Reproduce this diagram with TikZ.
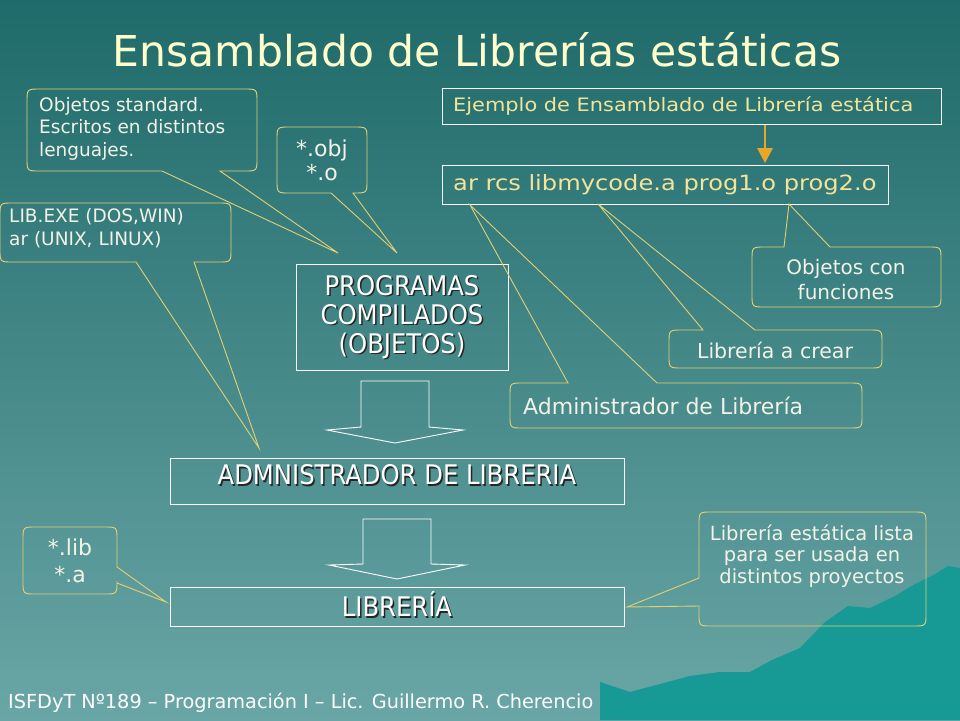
\documentclass[tikz,border=0pt]{standalone}
\usepackage{fontspec}
\setmainfont{DejaVu Sans}
\newfontfamily\condf{DejaVu Sans Condensed}
\definecolor{bgtop}{HTML}{1F6A6A}
\definecolor{bgbot}{HTML}{6AA6A6}
\definecolor{cob}{HTML}{E2CF72}
\definecolor{ctxt}{HTML}{F2F2E6}
\definecolor{ytxt}{HTML}{F3E49A}
\definecolor{titc}{HTML}{FFFFCC}
\definecolor{mnt}{HTML}{179A95}
\definecolor{orng}{HTML}{E8A62A}
\tikzset{
  co/.style={draw=cob, line width=0.9pt, line join=miter},
  wbox/.style={draw=white, line width=0.9pt},
  ct/.style={text=ctxt, inner sep=0pt, align=left},
  bt/.style={text=white, inner sep=0pt, align=center, font=\condf\fontsize{27}{29}\selectfont},
  sh/.style={text=black!85, inner sep=0pt, align=center, font=\condf\fontsize{27}{29}\selectfont},
  barrow/.style={draw=white, line width=0.9pt}
}
\newcommand\cbot[7]{\draw[co] ({#1+13},#2) -- ({#3-13},#2) .. controls (#3,#2) .. (#3,{#2+13}) -- (#3,{#4-13}) .. controls (#3,#4) .. ({#3-13},#4) -- (#6,#4) -- #7 -- (#5,#4) -- ({#1+13},#4) .. controls (#1,#4) .. (#1,{#4-13}) -- (#1,{#2+13}) .. controls (#1,#2) .. cycle;}
\newcommand\ctop[7]{\draw[co] ({#1+13},#2) -- (#5,#2) -- #7 -- (#6,#2) -- ({#3-13},#2) .. controls (#3,#2) .. (#3,{#2+13}) -- (#3,{#4-13}) .. controls (#3,#4) .. ({#3-13},#4) -- ({#1+13},#4) .. controls (#1,#4) .. (#1,{#4-13}) -- (#1,{#2+13}) .. controls (#1,#2) .. cycle;}
\newcommand\cright[7]{\draw[co] ({#1+13},#2) -- ({#3-13},#2) .. controls (#3,#2) .. (#3,{#2+13}) -- (#3,#5) -- #7 -- (#3,#6) -- (#3,{#4-13}) .. controls (#3,#4) .. ({#3-13},#4) -- ({#1+13},#4) .. controls (#1,#4) .. (#1,{#4-13}) -- (#1,{#2+13}) .. controls (#1,#2) .. cycle;}
\newcommand\cleft[7]{\draw[co] ({#1+13},#2) -- ({#3-13},#2) .. controls (#3,#2) .. (#3,{#2+13}) -- (#3,{#4-13}) .. controls (#3,#4) .. ({#3-13},#4) -- ({#1+13},#4) .. controls (#1,#4) .. (#1,{#4-13}) -- (#1,#6) -- #7 -- (#1,#5) -- (#1,{#2+13}) .. controls (#1,#2) .. cycle;}
\begin{document}
\begin{tikzpicture}[x=1pt,y=-1pt]
\shade[top color=bgtop, bottom color=bgbot] (0,0) rectangle (960,720);
\useasboundingbox (0,0) rectangle (960,720);
\fill[mnt] (600,682) -- (630,692) -- (660,684) -- (690,676) -- (720,672) -- (750,672) -- (772,660) -- (800,648) -- (825,622) -- (848,606) -- (870,608) -- (895,596) -- (915,584) -- (935,574) -- (948,566) -- (960,568) -- (960,720) -- (600,720) -- cycle;
\node[text=titc, font=\fontsize{42.5}{48}\selectfont] (title) at (477,50) {Ensamblado de Librerías estáticas};
\draw[wbox] (296,264) rectangle (508,370);
\node[sh] at (403.5,318.5) {PROGRAMAS\\COMPILADOS\\(OBJETOS)};
\node[bt] (prog) at (402,317) {PROGRAMAS\\COMPILADOS\\(OBJETOS)};
\draw[wbox] (170,458) rectangle (624,504);
\node[sh] at (398.5,476.5) {ADMNISTRADOR DE LIBRERIA};
\node[bt] (adm) at (397,475) {ADMNISTRADOR DE LIBRERIA};
\draw[wbox] (170,587) rectangle (624,626);
\node[sh] at (398.5,605.5) {LIBRERÍA};
\node[bt] (lib) at (397,604) {LIBRERÍA};
\draw[barrow] (361,427) -- (361,381) -- (429,381) -- (429,427) -- (463,430) -- (395,443) -- (327,430) -- cycle;
\draw[barrow] (363,564) -- (363,519) -- (431,519) -- (431,564) -- (465,565) -- (397,579) -- (329,565) -- cycle;
\cbot{27}{89}{257}{171}{162}{220}{(338,253)}
\node[ct, font=\fontsize{18.5}{22.5}\selectfont, anchor=north west] (c1) at (39,97) {Objetos standard.\\Escritos en distintos\\lenguajes.};
\cbot{277}{127}{367}{193}{331}{353}{(397,253)}
\node[ct, align=center, font=\fontsize{22}{24}\selectfont] (c2) at (322,160) {*.obj\\*.o};
\cbot{0}{203}{231}{262}{136}{194}{(259,448)}
\node[ct, font=\fontsize{18.5}{23}\selectfont, anchor=north west] (c3) at (9,208) {LIB.EXE (DOS,WIN)\\ar (UNIX, LINUX)};
\cright{23}{527}{117}{594}{567}{583}{(166,602)}
\node[ct, align=center, font=\fontsize{22}{27}\selectfont] (c4) at (70,561) {*.lib\\*.a};
\cleft{699}{512}{926}{626}{578}{606}{(627,607)}
\node[ct, align=center, font=\fontsize{19.5}{21.5}\selectfont] (c5) at (812,556) {Librería estática lista\\para ser usada en\\distintos proyectos};
\draw[wbox] (442,88) rectangle (941,124);
\node[text=ytxt, inner sep=0pt, anchor=west, font=\fontsize{18.5}{20}\selectfont] (ej) at (453,106) {\scalebox{1.13}[1]{Ejemplo de Ensamblado de Librería estática}};
\draw[wbox] (442,165) rectangle (888,204);
\node[text=ytxt, inner sep=0pt, anchor=west, font=\fontsize{21}{22}\selectfont] (ar) at (453,185) {\scalebox{1.15}[1]{ar rcs libmycode.a prog1.o prog2.o}};
\draw[orng, line width=2.5pt] (765,125) -- (765,150);
\fill[orng] (757,148) -- (773,148) -- (765,163) -- cycle;
\ctop{752}{247}{941}{307}{784}{830}{(789,204)}
\node[ct, align=center, font=\fontsize{20}{25}\selectfont] (c6) at (846,280) {Objetos con\\funciones};
\ctop{669}{330}{882}{368}{703}{755}{(598,204)}
\node[ct, font=\fontsize{20.5}{22}\selectfont] (c7) at (775,350) {Librería a crear};
\ctop{510}{383}{862}{428}{568}{657}{(470,205)}
\node[ct, anchor=west, font=\fontsize{22}{24}\selectfont] (c8) at (523,406) {Administrador de Librería};
\node[text=white, inner sep=0pt, anchor=west, font=\fontsize{19.3}{21}\selectfont] (foot) at (8,703) {ISFDyT Nº189 – Programación I – Lic. Guillermo R. Cherencio};
\end{tikzpicture}
\end{document}
